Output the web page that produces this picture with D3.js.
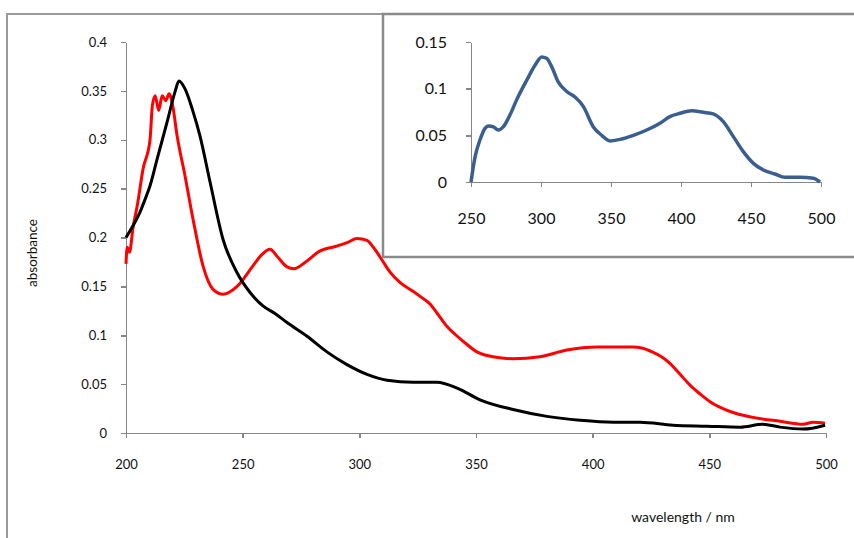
<!DOCTYPE html>
<html>
<head>
<meta charset="utf-8">
<script src="https://d3js.org/d3.v7.min.js"></script>
<style>
  body { margin: 0; background: #fff; }
  text { font-family: Lato, "Open Sans", sans-serif; fill: #111; }
  .axis path, .axis line { stroke: #868686; stroke-width: 1.5; shape-rendering: crispEdges; }
</style>
</head>
<body>
<script>
// main spectrum: red trace
const redNm  = [200, 200.5, 201.5, 203, 205, 207.3, 210.3, 211.3, 212.5, 214, 215.5, 217, 218.5, 220, 221.9, 225.3, 228.7, 233, 237.3, 241.6, 247.6, 254.4, 258, 261.7, 265, 269, 272, 277, 283, 290, 295, 299, 303.3, 306, 310, 313, 317.4, 323, 326.5, 330.3, 333.5, 337.6, 341, 344.4, 350.4, 357.3, 365.9, 377.4, 389, 401.9, 417.3, 421, 425.5, 429.5, 433.2, 437.5, 441.7, 446, 450.3, 458.9, 468.7, 480.3, 490.2, 494.4, 499.6];
const redAbs = [0.173, 0.19, 0.185, 0.21, 0.235, 0.27, 0.30, 0.335, 0.345, 0.33, 0.345, 0.34, 0.347, 0.335, 0.304, 0.263, 0.219, 0.171, 0.147, 0.142, 0.150, 0.171, 0.182, 0.188, 0.180, 0.170, 0.168, 0.175, 0.186, 0.191, 0.195, 0.199, 0.197, 0.19, 0.176, 0.165, 0.154, 0.145, 0.139, 0.132, 0.122, 0.109, 0.101, 0.094, 0.083, 0.078, 0.076, 0.078, 0.085, 0.088, 0.088, 0.087, 0.083, 0.078, 0.071, 0.060, 0.049, 0.040, 0.032, 0.022, 0.016, 0.012, 0.009, 0.011, 0.010];

// main spectrum: black trace
const blackNm  = [200, 203, 206, 208, 210.3, 213.3, 217.6, 221, 222.7, 225.3, 228.7, 231.7, 236, 241.6, 247.6, 253.1, 258.7, 264, 269, 277.6, 286.1, 294.7, 303.3, 311.9, 323, 333.3, 341.9, 351.7, 365.9, 380.4, 394.6, 408.7, 420.3, 434.4, 449, 463.2, 472.9, 480.3, 490.2, 499.6];
const blackAbs = [0.200, 0.212, 0.226, 0.238, 0.253, 0.28, 0.318, 0.349, 0.36, 0.352, 0.329, 0.304, 0.257, 0.198, 0.164, 0.144, 0.130, 0.122, 0.113, 0.099, 0.083, 0.070, 0.060, 0.054, 0.052, 0.052, 0.046, 0.034, 0.024, 0.017, 0.013, 0.011, 0.011, 0.008, 0.007, 0.006, 0.009, 0.006, 0.004, 0.008];

// inset spectrum (blue)
const insetNm  = [250, 252.9, 256.4, 260, 262.4, 266, 269.5, 273, 277.9, 282.6, 289.8, 295.7, 300.5, 304, 307.6, 312.4, 318.4, 324.3, 330.2, 337.4, 343.4, 349.3, 356.4, 366, 375.5, 385, 392, 399.3, 407.6, 415.9, 423, 430.2, 437.4, 444.5, 451.7, 458.8, 467.1, 474.3, 485, 494.5, 499.3];
const insetAbs = [0.0, 0.027, 0.045, 0.0575, 0.06, 0.059, 0.0557, 0.059, 0.072, 0.088, 0.109, 0.125, 0.134, 0.1325, 0.1236, 0.107, 0.097, 0.091, 0.081, 0.059, 0.050, 0.044, 0.0457, 0.050, 0.0557, 0.063, 0.070, 0.0736, 0.0764, 0.0747, 0.0729, 0.0646, 0.0486, 0.0325, 0.020, 0.0129, 0.0086, 0.005, 0.005, 0.004, 0.0];

const mainXTicks = [200, 250, 300, 350, 400, 450, 500];
const mainYTicks = [0, 0.05, 0.1, 0.15, 0.2, 0.25, 0.3, 0.35, 0.4];
const insetXTicks = [250, 300, 350, 400, 450, 500];
const insetYTicks = [0, 0.05, 0.1, 0.15];

const width = 854, height = 538;
const svg = d3.select("body").append("svg")
    .attr("width", width)
    .attr("height", height);

// outer chart frame
svg.append("rect")
    .attr("x", 7).attr("y", 14)
    .attr("width", 900).attr("height", 600)
    .attr("fill", "#fff")
    .attr("stroke", "#9a9a9a")
    .attr("stroke-width", 2);

const x = d3.scaleLinear().domain([200, 500]).range([126, 826]);
const y = d3.scaleLinear().domain([0, 0.4]).range([433, 42]);
const fmt = d => d3.format("")(+d.toFixed(2));

svg.append("g")
    .attr("class", "axis")
    .attr("transform", "translate(126,0)")
    .call(d3.axisLeft(y).tickValues(mainYTicks).tickSize(5).tickSizeOuter(0).tickPadding(14).tickFormat(fmt))
    .call(g => g.selectAll("text").style("font-size", "13px").attr("fill", "#111"));

svg.append("g")
    .attr("class", "axis")
    .attr("transform", "translate(0,433)")
    .call(d3.axisBottom(x).tickValues(mainXTicks).tickSize(5).tickSizeOuter(0).tickPadding(22))
    .call(g => g.selectAll("text").style("font-size", "13px").attr("fill", "#111"));

const line = d3.line().curve(d3.curveMonotoneX).x(d => x(d[0])).y(d => y(d[1]));

svg.append("path")
    .datum(d3.zip(redNm, redAbs))
    .attr("d", line)
    .attr("fill", "none")
    .attr("stroke", "#ff0000")
    .attr("stroke-width", 3)
    .attr("stroke-linejoin", "round");

svg.append("path")
    .datum(d3.zip(blackNm, blackAbs))
    .attr("d", line)
    .attr("fill", "none")
    .attr("stroke", "#000")
    .attr("stroke-width", 3)
    .attr("stroke-linejoin", "round");

svg.append("text")
    .attr("transform", "translate(37,253) rotate(-90)")
    .attr("text-anchor", "middle")
    .style("font-size", "13.5px")
    .text("absorbance");

svg.append("text")
    .attr("x", 683).attr("y", 522)
    .attr("text-anchor", "middle")
    .style("font-size", "14px")
    .text("wavelength / nm");

// inset
svg.append("rect")
    .attr("x", 383).attr("y", 14)
    .attr("width", 500).attr("height", 243)
    .attr("fill", "#fff")
    .attr("stroke", "#8a8a8a")
    .attr("stroke-width", 2.5);

const xi = d3.scaleLinear().domain([250, 500]).range([471, 821]);
const yi = d3.scaleLinear().domain([0, 0.15]).range([182, 42]);

svg.append("g")
    .attr("class", "axis")
    .attr("transform", "translate(471,0)")
    .call(d3.axisLeft(yi).tickValues(insetYTicks).tickSize(5).tickSizeOuter(0).tickPadding(19).tickFormat(fmt))
    .call(g => g.selectAll("text").style("font-size", "16px").attr("fill", "#111"));

svg.append("g")
    .attr("class", "axis")
    .attr("transform", "translate(0,182)")
    .call(d3.axisBottom(xi).tickValues(insetXTicks).tickSize(5).tickSizeOuter(0).tickPadding(26))
    .call(g => g.selectAll("text").style("font-size", "16px").attr("fill", "#111"));

svg.append("path")
    .datum(d3.zip(insetNm, insetAbs))
    .attr("d", d3.line().curve(d3.curveMonotoneX).x(d => xi(d[0])).y(d => yi(d[1])))
    .attr("fill", "none")
    .attr("stroke", "#3a5f8f")
    .attr("stroke-width", 3.5)
    .attr("stroke-linejoin", "round");
</script>
</body>
</html>
